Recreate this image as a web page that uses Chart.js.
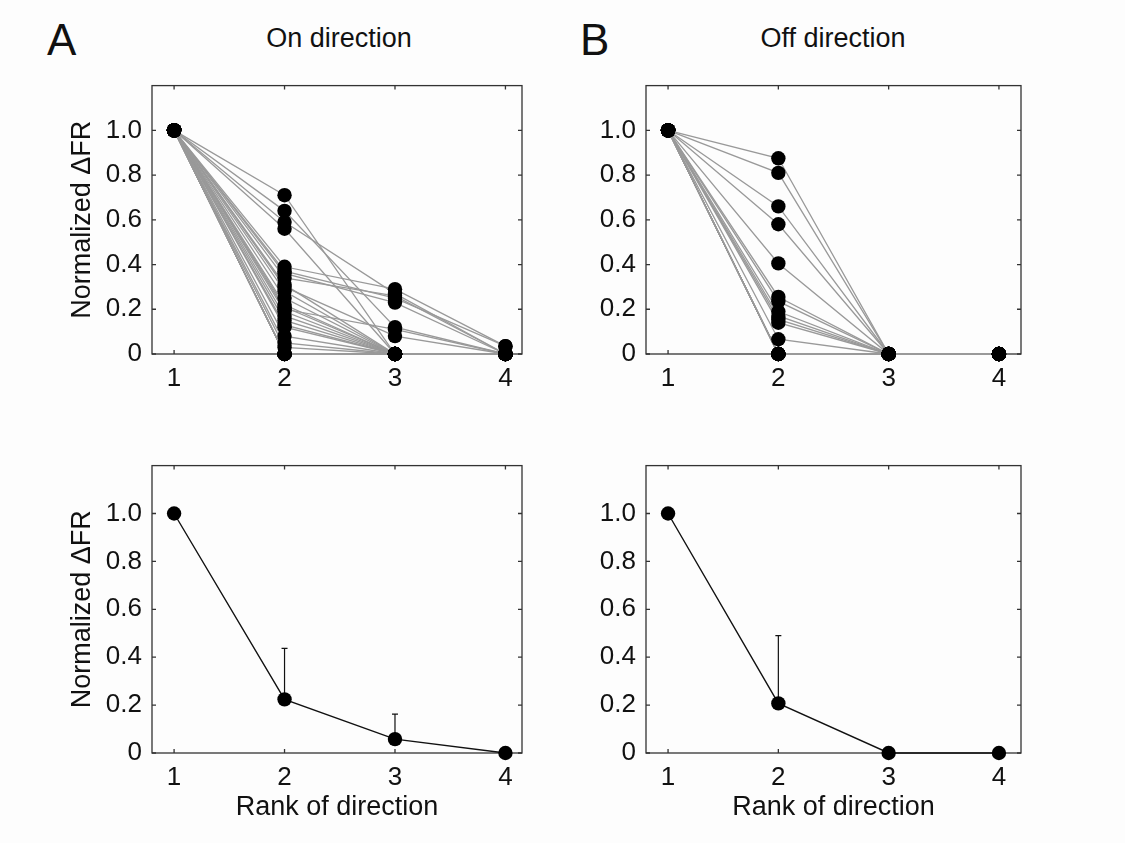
<!DOCTYPE html>
<html>
<head>
<meta charset="utf-8">
<script src="https://cdn.jsdelivr.net/npm/chart.js@4.4.0/dist/chart.umd.min.js"></script>
<style>
  html, body { margin: 0; padding: 0; background: #fdfdfd; }
  body { width: 1125px; height: 843px; position: relative; overflow: hidden;
         font-family: 'Liberation Sans', Arial, Helvetica, sans-serif; color: #111; }
  canvas { position: absolute; }
  .lbl { position: absolute; line-height: 1; white-space: nowrap; }
  .ttl { font-size: 27px; transform: translateX(-50%); }
</style>
</head>
<body>
<div class="lbl" style="left:47px;top:18px;font-size:44px">A</div>
<div class="lbl" style="left:580px;top:18px;font-size:44px">B</div>
<div class="lbl ttl" style="left:339px;top:25px">On direction</div>
<div class="lbl ttl" style="left:833px;top:25px">Off direction</div>

<canvas id="onCells" width="560" height="360" style="left:0;top:60px"></canvas>
<canvas id="offCells" width="500" height="360" style="left:560px;top:60px"></canvas>
<canvas id="onAvg" width="560" height="403" style="left:0;top:440px"></canvas>
<canvas id="offAvg" width="500" height="403" style="left:560px;top:440px"></canvas>

<script>
const FONT = "'Liberation Sans', Arial, Helvetica, sans-serif";

const rank = [1, 2, 3, 4];
const yTicks = [0, 0.2, 0.4, 0.6, 0.8, 1.0];

// on direction: normalized dFR of each cell at ranks 1-4
const onRank1 = [1, 1, 1, 1, 1, 1, 1, 1, 1, 1, 1, 1, 1, 1, 1, 1, 1, 1, 1, 1, 1, 1, 1, 1, 1, 1, 1, 1, 1, 1];
const onRank2 = [0.71, 0.64, 0.59, 0.56, 0.39, 0.37, 0.36, 0.34, 0.31, 0.30, 0.28, 0.25, 0.22, 0.21, 0.20,
                 0.19, 0.17, 0.15, 0.13, 0.12, 0.08, 0.05, 0.03, 0, 0, 0, 0, 0, 0, 0];
const onRank3 = [0, 0.12, 0.27, 0, 0.29, 0.25, 0.23, 0.26, 0, 0.08, 0, 0, 0, 0, 0.11,
                 0, 0, 0, 0, 0, 0, 0, 0, 0, 0, 0, 0, 0, 0, 0];
const onRank4 = [0, 0, 0, 0, 0.035, 0.035, 0, 0, 0, 0, 0, 0, 0, 0, 0,
                 0, 0, 0, 0, 0, 0, 0, 0, 0, 0, 0, 0, 0, 0, 0];

// off direction
const offRank1 = [1, 1, 1, 1, 1, 1, 1, 1, 1, 1, 1, 1, 1, 1, 1, 1, 1, 1, 1, 1, 1];
const offRank2 = [0.875, 0.81, 0.66, 0.58, 0.405, 0.255, 0.235, 0.19, 0.17, 0.155, 0.14, 0.066,
                  0, 0, 0, 0, 0, 0, 0, 0, 0];
const offRank3 = [0, 0, 0, 0, 0, 0, 0, 0, 0, 0, 0, 0, 0, 0, 0, 0, 0, 0, 0, 0, 0];
const offRank4 = [0, 0, 0, 0, 0, 0, 0, 0, 0, 0, 0, 0, 0, 0, 0, 0, 0, 0, 0, 0, 0];

// population mean and SD
const onMean = [1, 0.224, 0.058, 0];
const onSD = [0, 0.213, 0.104, 0];
const offMean = [1, 0.207, 0, 0];
const offSD = [0, 0.283, 0, 0];

Chart.defaults.font.family = FONT;
Chart.defaults.color = '#111';

// box around the axes with inward ticks on all four sides
const framePlugin = {
  id: 'frame',
  beforeDatasetsDraw(chart) {
    const { ctx, chartArea: a, scales: { x, y } } = chart;
    const len = 4;
    ctx.save();
    ctx.strokeStyle = '#333';
    ctx.lineWidth = 1.3;
    ctx.strokeRect(a.left, a.top, a.right - a.left, a.bottom - a.top);
    ctx.beginPath();
    x.ticks.forEach(t => {
      const px = x.getPixelForValue(t.value);
      ctx.moveTo(px, a.bottom); ctx.lineTo(px, a.bottom - len);
      ctx.moveTo(px, a.top); ctx.lineTo(px, a.top + len);
    });
    y.ticks.forEach(t => {
      const py = y.getPixelForValue(t.value);
      ctx.moveTo(a.left, py); ctx.lineTo(a.left + len, py);
      ctx.moveTo(a.right, py); ctx.lineTo(a.right - len, py);
    });
    ctx.stroke();
    ctx.restore();
  }
};

// upper error bars (mean + SD) with a small cap
const errorBarPlugin = {
  id: 'errorBars',
  beforeDatasetsDraw(chart, args, opts) {
    if (!opts.mean) return;
    const { ctx, scales: { x, y } } = chart;
    ctx.save();
    ctx.strokeStyle = '#111';
    ctx.lineWidth = 1.2;
    ctx.beginPath();
    opts.mean.forEach((m, i) => {
      if (!opts.sd[i]) return;
      const px = x.getPixelForValue(rank[i]);
      const p0 = y.getPixelForValue(m);
      const p1 = y.getPixelForValue(m + opts.sd[i]);
      ctx.moveTo(px, p0); ctx.lineTo(px, p1);
      ctx.moveTo(px - 3, p1); ctx.lineTo(px + 3, p1);
    });
    ctx.stroke();
    ctx.restore();
  }
};

function cellSets(r1, r2, r3, r4) {
  const lines = r1.map((_, i) => ({
    data: [r1[i], r2[i], r3[i], r4[i]].map((v, k) => ({ x: rank[k], y: v })),
    showLine: true,
    borderColor: '#999',
    borderWidth: 1.3,
    pointRadius: 0,
    clip: false,
    order: 1
  }));
  const dots = {
    data: r1.flatMap((_, i) => [r1[i], r2[i], r3[i], r4[i]].map((v, k) => ({ x: rank[k], y: v }))),
    showLine: false,
    pointRadius: 7.2,
    pointBackgroundColor: '#000',
    pointBorderWidth: 0,
    clip: false,
    order: 0
  };
  return [...lines, dots];
}

function meanSet(mean) {
  return [{
    data: mean.map((v, k) => ({ x: rank[k], y: v })),
    showLine: true,
    borderColor: '#111',
    borderWidth: 1.4,
    pointRadius: 7.2,
    pointBackgroundColor: '#000',
    pointBorderWidth: 0,
    clip: false
  }];
}

function panel(id, datasets, p) {
  new Chart(document.getElementById(id), {
    type: 'scatter',
    data: { datasets },
    plugins: [framePlugin, errorBarPlugin],
    options: {
      responsive: false,
      animation: false,
      layout: { padding: { left: 0, top: p.top, right: p.right, bottom: 0 } },
      plugins: {
        legend: { display: false },
        tooltip: { enabled: false },
        errorBars: p.err || {}
      },
      scales: {
        x: {
          type: 'linear', min: 0.8, max: p.xMax,
          grid: { display: false, drawTicks: false },
          border: { display: false },
          afterBuildTicks: s => { s.ticks = rank.map(v => ({ value: v })); },
          afterFit: s => { s.height = p.xH; },
          ticks: { font: { size: 26 }, padding: 9, maxRotation: 0, autoSkip: false },
          title: { display: !!p.xTitle, text: p.xTitle, font: { size: 27 }, padding: { top: 0, bottom: 19 } }
        },
        y: {
          min: 0, max: 1.2,
          grid: { display: false, drawTicks: false },
          border: { display: false },
          afterBuildTicks: s => { s.ticks = yTicks.map(v => ({ value: v })); },
          afterFit: s => { s.width = p.yW; },
          ticks: { font: { size: 26 }, padding: 10, callback: v => v === 0 ? '0' : v.toFixed(1) },
          title: { display: !!p.yTitle, text: p.yTitle, font: { size: 27 }, padding: { top: 66, bottom: 0 } }
        }
      }
    }
  });
}

panel('onCells', cellSets(onRank1, onRank2, onRank3, onRank4),
  { top: 8, right: 38, xH: 66, yW: 152, xMax: 4.15, yTitle: 'Normalized \u0394FR' });
panel('offCells', cellSets(offRank1, offRank2, offRank3, offRank4),
  { top: 8, right: 39, xH: 66, yW: 86, xMax: 4.2 });
panel('onAvg', meanSet(onMean),
  { top: 25, right: 38, xH: 90, yW: 152, xMax: 4.15, yTitle: 'Normalized \u0394FR', xTitle: 'Rank of direction',
    err: { mean: onMean, sd: onSD } });
panel('offAvg', meanSet(offMean),
  { top: 25, right: 39, xH: 90, yW: 86, xMax: 4.2, xTitle: 'Rank of direction',
    err: { mean: offMean, sd: offSD } });
</script>
</body>
</html>
